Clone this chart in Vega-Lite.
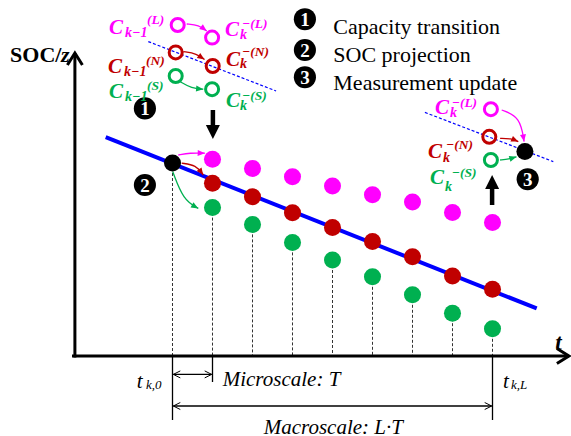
{
  "$schema": "https://vega.github.io/schema/vega-lite/v6.json",
  "width": 571,
  "height": 436,
  "padding": 0,
  "autosize": "none",
  "background": "white",
  "view": {"stroke": null},
  "config": {"font": "Times New Roman, Liberation Serif, DejaVu Serif, serif"},
  "datasets": {
    "dashed": [
      {"x": 0, "y": 4.825, "y2": 0}, {"x": 1, "y": 3.71, "y2": 0}, {"x": 2, "y": 3.29, "y2": 0},
      {"x": 3, "y": 2.84, "y2": 0}, {"x": 4, "y": 2.4, "y2": 0}, {"x": 5, "y": 1.98, "y2": 0},
      {"x": 6, "y": 1.53, "y2": 0}, {"x": 7, "y": 1.07, "y2": 0}, {"x": 8, "y": 0.68, "y2": 0}
    ],
    "thin": [
      {"x": 0, "y": 0, "x2": 0, "y2": -1.6},
      {"x": 1, "y": 0, "x2": 1, "y2": -0.65},
      {"x": 8, "y": 0, "x2": 8, "y2": -1.6},
      {"x": 0.02, "y": -0.46, "x2": 0.98, "y2": -0.46},
      {"x": 0.02, "y": -1.25, "x2": 7.98, "y2": -1.25}
    ],
    "dimheads": [
      {"x": 0.02, "y": -0.46, "angle": 180}, {"x": 0.98, "y": -0.46, "angle": 0},
      {"x": 0.02, "y": -1.25, "angle": 180}, {"x": 7.98, "y": -1.25, "angle": 0}
    ],
    "axes": [
      {"x": -2.44, "y": 0, "x2": -2.44, "y2": 7.53},
      {"x": -2.475, "y": 0, "x2": 9.87, "y2": 0}
    ],
    "axisheads": [
      {"x": -2.44, "y": 7.575, "angle": -90},
      {"x": 9.91, "y": 0, "angle": 0}
    ],
    "blue": [{"x": -1.67, "y": 5.47, "x2": 9.105, "y2": 1.19}],
    "bluedash": [
      {"x": -0.605, "y": 7.86, "x2": 2.59, "y2": 6.625},
      {"x": 6.31, "y": 6.09, "x2": 9.52, "y2": 4.86}
    ],
    "curves": [
      {"id": 1, "s": "L", "i": 0, "x": 0.355, "y": 8.3}, {"id": 1, "s": "L", "i": 1, "x": 0.66, "y": 8.275}, {"id": 1, "s": "L", "i": 2, "x": 0.855, "y": 8.125},
      {"id": 2, "s": "N", "i": 0, "x": 0.27, "y": 7.61}, {"id": 2, "s": "N", "i": 1, "x": 0.61, "y": 7.56}, {"id": 2, "s": "N", "i": 2, "x": 0.8, "y": 7.41},
      {"id": 3, "s": "S", "i": 0, "x": 0.19, "y": 6.86}, {"id": 3, "s": "S", "i": 1, "x": 0.48, "y": 6.69}, {"id": 3, "s": "S", "i": 2, "x": 0.77, "y": 6.67},
      {"id": 4, "s": "L", "i": 0, "x": 0.145, "y": 5.025}, {"id": 4, "s": "L", "i": 1, "x": 0.44, "y": 5.08}, {"id": 4, "s": "L", "i": 2, "x": 0.81, "y": 5.07},
      {"id": 5, "s": "N", "i": 0, "x": 0.23, "y": 4.82}, {"id": 5, "s": "N", "i": 1, "x": 0.59, "y": 4.775}, {"id": 5, "s": "N", "i": 2, "x": 0.77, "y": 4.525},
      {"id": 6, "s": "S", "i": 0, "x": 0.005, "y": 4.61}, {"id": 6, "s": "S", "i": 1, "x": 0.27, "y": 3.9}, {"id": 6, "s": "S", "i": 2, "x": 0.645, "y": 3.69},
      {"id": 7, "s": "L", "i": 0, "x": 8.23, "y": 6.15}, {"id": 7, "s": "L", "i": 1, "x": 8.69, "y": 5.975}, {"id": 7, "s": "L", "i": 2, "x": 8.79, "y": 5.36},
      {"id": 8, "s": "N", "i": 0, "x": 8.19, "y": 5.44}, {"id": 8, "s": "N", "i": 1, "x": 8.46, "y": 5.44}, {"id": 8, "s": "N", "i": 2, "x": 8.645, "y": 5.36},
      {"id": 9, "s": "S", "i": 0, "x": 8.19, "y": 4.9}, {"id": 9, "s": "S", "i": 1, "x": 8.41, "y": 4.925}, {"id": 9, "s": "S", "i": 2, "x": 8.6, "y": 4.98}
    ],
    "heads": [
      {"x": 0.855, "y": 8.125, "angle": 38, "s": "L"},
      {"x": 0.8, "y": 7.41, "angle": 34, "s": "N"},
      {"x": 0.77, "y": 6.67, "angle": 5, "s": "S"},
      {"x": 0.81, "y": 5.07, "angle": 2, "s": "L"},
      {"x": 0.77, "y": 4.525, "angle": 54, "s": "N"},
      {"x": 0.645, "y": 3.69, "angle": 29, "s": "S"},
      {"x": 8.79, "y": 5.36, "angle": 81, "s": "L"},
      {"x": 8.645, "y": 5.36, "angle": 24, "s": "N"},
      {"x": 8.6, "y": 4.98, "angle": -17, "s": "S"}
    ],
    "bigshaft": [
      {"x": 1.01, "y": 6.15, "x2": 1.01, "y2": 5.7},
      {"x": 7.99, "y": 3.775, "x2": 7.99, "y2": 4.25}
    ],
    "bigheads": [
      {"x": 1.01, "y": 5.425, "angle": 90},
      {"x": 7.99, "y": 4.525, "angle": -90}
    ],
    "dots": [
      {"x": 0, "y": 4.825, "s": "K"},
      {"x": 1, "y": 4.32, "s": "N"}, {"x": 2, "y": 3.98, "s": "N"}, {"x": 3, "y": 3.58, "s": "N"}, {"x": 4, "y": 3.21, "s": "N"},
      {"x": 5, "y": 2.86, "s": "N"}, {"x": 6, "y": 2.48, "s": "N"}, {"x": 7, "y": 2.0, "s": "N"}, {"x": 8, "y": 1.67, "s": "N"},
      {"x": 1, "y": 4.92, "s": "L"}, {"x": 2, "y": 4.69, "s": "L"}, {"x": 3, "y": 4.48, "s": "L"}, {"x": 4, "y": 4.25, "s": "L"},
      {"x": 5, "y": 4.03, "s": "L"}, {"x": 6, "y": 3.85, "s": "L"}, {"x": 7, "y": 3.59, "s": "L"}, {"x": 8, "y": 3.34, "s": "L"},
      {"x": 1, "y": 3.71, "s": "S"}, {"x": 2, "y": 3.29, "s": "S"}, {"x": 3, "y": 2.84, "s": "S"}, {"x": 4, "y": 2.4, "s": "S"},
      {"x": 5, "y": 1.98, "s": "S"}, {"x": 6, "y": 1.53, "s": "S"}, {"x": 7, "y": 1.07, "s": "S"}, {"x": 8, "y": 0.68, "s": "S"},
      {"x": 8.81, "y": 5.11, "s": "K"}
    ],
    "rings": [
      {"x": 0.13, "y": 8.275, "s": "L"}, {"x": 0.99, "y": 7.96, "s": "L"},
      {"x": 0.08, "y": 7.59, "s": "N"}, {"x": 1.005, "y": 7.25, "s": "N"},
      {"x": 0.08, "y": 7.0, "s": "S"}, {"x": 0.99, "y": 6.67, "s": "S"},
      {"x": 7.96, "y": 6.17, "s": "L"}, {"x": 7.92, "y": 5.48, "s": "N"}, {"x": 7.96, "y": 4.9, "s": "S"}
    ],
    "badges": [
      {"x": 3.31, "y": 8.42, "label": "1"}, {"x": 3.31, "y": 7.65, "label": "2"}, {"x": 3.31, "y": 6.97, "label": "3"},
      {"x": -0.69, "y": 6.19, "label": "1"}, {"x": -0.69, "y": 4.275, "label": "2"}, {"x": 8.88, "y": 4.42, "label": "3"}
    ],
    "legendtext": [
      {"x": 4.02, "y": 8.23, "txt": "Capacity transition"},
      {"x": 4.02, "y": 7.525, "txt": "SOC projection"},
      {"x": 4.02, "y": 6.83, "txt": "Measurement update"}
    ],
    "bigC": [
      {"x": -1.59, "y": 8.2, "txt": "C", "s": "L"}, {"x": -1.61, "y": 7.23, "txt": "C", "s": "N"}, {"x": -1.59, "y": 6.61, "txt": "C", "s": "S"},
      {"x": 1.31, "y": 8.15, "txt": "C", "s": "L"}, {"x": 1.34, "y": 7.4, "txt": "C", "s": "N"}, {"x": 1.34, "y": 6.375, "txt": "C", "s": "S"},
      {"x": 6.56, "y": 6.19, "txt": "C", "s": "L"}, {"x": 6.39, "y": 5.11, "txt": "C", "s": "N"}, {"x": 6.44, "y": 4.44, "txt": "C", "s": "S"}
    ],
    "subs": [
      {"x": -1.19, "y": 8.075, "txt": "k−1", "s": "L"}, {"x": -1.21, "y": 7.11, "txt": "k−1", "s": "N"}, {"x": -1.19, "y": 6.48, "txt": "k−1", "s": "S"},
      {"x": 1.69, "y": 8.025, "txt": "k", "s": "L"}, {"x": 1.69, "y": 7.3, "txt": "k", "s": "N"}, {"x": 1.69, "y": 6.25, "txt": "k", "s": "S"},
      {"x": 6.94, "y": 6.07, "txt": "k", "s": "L"}, {"x": 6.76, "y": 4.95, "txt": "k", "s": "N"}, {"x": 6.81, "y": 4.23, "txt": "k", "s": "S"}
    ],
    "sups": [
      {"x": -0.64, "y": 8.4, "txt": "(L)", "s": "L"}, {"x": -0.66, "y": 7.375, "txt": "(N)", "s": "N"}, {"x": -0.64, "y": 6.75, "txt": "(S)", "s": "S"},
      {"x": 1.74, "y": 8.29, "txt": "−(L)", "s": "L"}, {"x": 1.74, "y": 7.61, "txt": "−(N)", "s": "N"}, {"x": 1.74, "y": 6.51, "txt": "−(S)", "s": "S"},
      {"x": 6.98, "y": 6.33, "txt": "−(L)", "s": "L"}, {"x": 6.84, "y": 5.285, "txt": "−(N)", "s": "N"}, {"x": 6.98, "y": 4.58, "txt": "−(S)", "s": "S"}
    ],
    "titleBold": [{"x": -4.06, "y": 7.525, "txt": "SOC/"}],
    "titleBoldItalic": [{"x": -2.79, "y": 7.525, "txt": "z"}],
    "tLabel": [{"x": 9.57, "y": 0.32, "txt": "t"}],
    "italic": [
      {"x": -0.894, "y": -0.64, "txt": "t"},
      {"x": 1.255, "y": -0.6, "txt": "Microscale: T"},
      {"x": 8.26, "y": -0.64, "txt": "t"},
      {"x": 2.28, "y": -1.79, "txt": "Macroscale: L·T"}
    ],
    "italicSub": [
      {"x": -0.6625, "y": -0.725, "txt": "k,0"},
      {"x": 8.46, "y": -0.725, "txt": "k,L"}
    ]
  },
  "encoding": {
    "x": {"field": "x", "type": "quantitative", "scale": {"domain": [-4.3125, 9.9625], "nice": false, "zero": false}, "axis": null},
    "y": {"field": "y", "type": "quantitative", "scale": {"domain": [-2, 8.9], "nice": false, "zero": false}, "axis": null}
  },
  "layer": [
    {
      "data": {"name": "dashed"},
      "mark": {"type": "rule", "strokeDash": [3, 2], "strokeWidth": 1, "color": "#333333"},
      "encoding": {"y2": {"field": "y2"}}
    },
    {
      "data": {"name": "thin"},
      "mark": {"type": "rule", "strokeWidth": 1.3, "color": "black"},
      "encoding": {"x2": {"field": "x2"}, "y2": {"field": "y2"}}
    },
    {
      "data": {"name": "dimheads"},
      "mark": {"type": "point", "shape": "M-2,-1L0,0L-2,1", "filled": false, "size": 49, "strokeWidth": 1, "color": "black", "opacity": 1},
      "encoding": {"angle": {"field": "angle", "type": "quantitative", "scale": null}}
    },
    {
      "data": {"name": "axes"},
      "mark": {"type": "rule", "strokeWidth": 3, "color": "black", "strokeCap": "square"},
      "encoding": {"x2": {"field": "x2"}, "y2": {"field": "y2"}}
    },
    {
      "data": {"name": "axisheads"},
      "mark": {"type": "point", "shape": "M-1.6,-1L0,0L-1.6,1", "filled": false, "size": 225, "strokeWidth": 3, "color": "black", "opacity": 1},
      "encoding": {"angle": {"field": "angle", "type": "quantitative", "scale": null}}
    },
    {
      "data": {"name": "blue"},
      "mark": {"type": "rule", "strokeWidth": 4, "color": "#0000FF"},
      "encoding": {"x2": {"field": "x2"}, "y2": {"field": "y2"}}
    },
    {
      "data": {"name": "bluedash"},
      "mark": {"type": "rule", "strokeWidth": 1.2, "strokeDash": [3, 2], "color": "#0000FF"},
      "encoding": {"x2": {"field": "x2"}, "y2": {"field": "y2"}}
    },
    {
      "data": {"name": "curves"},
      "mark": {"type": "line", "interpolate": "basis", "strokeWidth": 1.3},
      "encoding": {
        "detail": {"field": "id", "type": "nominal"},
        "order": {"field": "i", "type": "quantitative"},
        "color": {"field": "s", "type": "nominal", "scale": {"domain": ["L", "N", "S", "K"], "range": ["#FF00FF", "#C00000", "#00B050", "#000000"]}, "legend": null}
      }
    },
    {
      "data": {"name": "heads"},
      "mark": {"type": "point", "shape": "M0,0L-2.4,-1L-2.4,1Z", "filled": true, "size": 36, "opacity": 1},
      "encoding": {
        "angle": {"field": "angle", "type": "quantitative", "scale": null},
        "color": {"field": "s", "type": "nominal", "legend": null}
      }
    },
    {
      "data": {"name": "bigshaft"},
      "mark": {"type": "rule", "strokeWidth": 4.5, "color": "black"},
      "encoding": {"x2": {"field": "x2"}, "y2": {"field": "y2"}}
    },
    {
      "data": {"name": "bigheads"},
      "mark": {"type": "point", "shape": "M0,0L-2,-1L-2,1Z", "filled": true, "size": 196, "color": "black", "opacity": 1},
      "encoding": {"angle": {"field": "angle", "type": "quantitative", "scale": null}}
    },
    {
      "data": {"name": "dots"},
      "mark": {"type": "point", "shape": "circle", "filled": true, "size": 290, "opacity": 1},
      "encoding": {"color": {"field": "s", "type": "nominal", "legend": null}}
    },
    {
      "data": {"name": "rings"},
      "mark": {"type": "point", "shape": "circle", "filled": false, "size": 170, "strokeWidth": 3, "opacity": 1},
      "encoding": {"color": {"field": "s", "type": "nominal", "legend": null}}
    },
    {
      "data": {"name": "badges"},
      "mark": {"type": "point", "shape": "circle", "filled": true, "size": 490, "color": "black", "opacity": 1},
      "encoding": {}
    },
    {
      "data": {"name": "badges"},
      "mark": {"type": "text", "font": "Times New Roman, Liberation Serif, serif", "color": "white", "fontWeight": "bold", "fontSize": 19, "align": "center", "baseline": "middle", "dy": 1},
      "encoding": {"text": {"field": "label"}}
    },
    {
      "data": {"name": "legendtext"},
      "mark": {"type": "text", "font": "Times New Roman, Liberation Serif, serif", "color": "black", "fontSize": 22, "align": "left"},
      "encoding": {"text": {"field": "txt"}}
    },
    {
      "data": {"name": "bigC"},
      "mark": {"type": "text", "font": "Times New Roman, Liberation Serif, serif", "fontSize": 21, "fontWeight": "bold", "fontStyle": "italic", "align": "left"},
      "encoding": {"text": {"field": "txt"}, "color": {"field": "s", "type": "nominal", "legend": null}}
    },
    {
      "data": {"name": "subs"},
      "mark": {"type": "text", "font": "Times New Roman, Liberation Serif, serif", "fontSize": 14, "fontWeight": "bold", "fontStyle": "italic", "align": "left"},
      "encoding": {"text": {"field": "txt"}, "color": {"field": "s", "type": "nominal", "legend": null}}
    },
    {
      "data": {"name": "sups"},
      "mark": {"type": "text", "font": "Times New Roman, Liberation Serif, serif", "fontSize": 13.5, "fontWeight": "bold", "fontStyle": "italic", "align": "left"},
      "encoding": {"text": {"field": "txt"}, "color": {"field": "s", "type": "nominal", "legend": null}}
    },
    {
      "data": {"name": "titleBold"},
      "mark": {"type": "text", "font": "Times New Roman, Liberation Serif, serif", "fontSize": 22, "fontWeight": "bold", "align": "left", "color": "black"},
      "encoding": {"text": {"field": "txt"}}
    },
    {
      "data": {"name": "titleBoldItalic"},
      "mark": {"type": "text", "font": "Times New Roman, Liberation Serif, serif", "fontSize": 22, "fontWeight": "bold", "fontStyle": "italic", "align": "left", "color": "black"},
      "encoding": {"text": {"field": "txt"}}
    },
    {
      "data": {"name": "tLabel"},
      "mark": {"type": "text", "font": "Times New Roman, Liberation Serif, serif", "fontSize": 23, "fontWeight": "bold", "fontStyle": "italic", "align": "left", "color": "black"},
      "encoding": {"text": {"field": "txt"}}
    },
    {
      "data": {"name": "italic"},
      "mark": {"type": "text", "font": "Times New Roman, Liberation Serif, serif", "fontSize": 21, "fontStyle": "italic", "align": "left", "color": "black"},
      "encoding": {"text": {"field": "txt"}}
    },
    {
      "data": {"name": "italicSub"},
      "mark": {"type": "text", "font": "Times New Roman, Liberation Serif, serif", "fontSize": 13, "fontStyle": "italic", "align": "left", "color": "black"},
      "encoding": {"text": {"field": "txt"}}
    }
  ]
}
